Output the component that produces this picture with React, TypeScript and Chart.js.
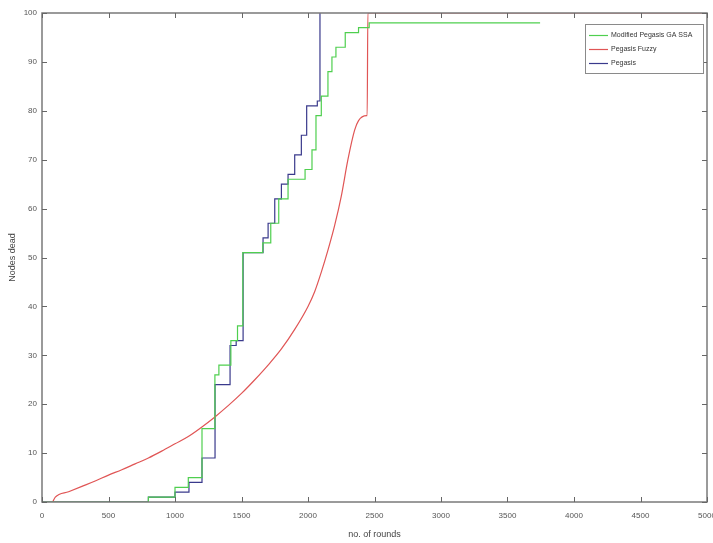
import React, { useEffect, useRef } from "react";
import { Chart, registerables } from "chart.js";

Chart.register(...registerables);

const xTicks = [0, 500, 1000, 1500, 2000, 2500, 3000, 3500, 4000, 4500, 5000];
const yTicks = [0, 10, 20, 30, 40, 50, 60, 70, 80, 90, 100];

const seriesNames = ["Modified Pegasis GA SSA", "Pegasis Fuzzy", "Pegasis"];
const seriesColors = ["#4fcf4f", "#e05555", "#3a3a8c"];

const greenX = [0, 800, 1000, 1100, 1203, 1300, 1330, 1420, 1470, 1510, 1660, 1720, 1780, 1850, 1978, 2030, 2060, 2100, 2150, 2180, 2210, 2280, 2380, 2460, 3745];
const greenY = [0, 1, 3, 5, 15, 26, 28, 33, 36, 51, 53, 57, 62, 66, 68, 72, 79, 83, 88, 91, 93, 96, 97, 98, 98];

const redX = [80, 100, 200, 300, 400, 500, 600, 700, 800, 900, 1000, 1100, 1200, 1300, 1400, 1500, 1600, 1700, 1800, 1900, 2000, 2050, 2100, 2150, 2200, 2250, 2300, 2350, 2380, 2440, 2445, 2450, 5000];
const redY = [0, 1, 2.1, 3.2, 4.3, 5.5, 6.6, 7.8, 9, 10.4, 11.9, 13.4, 15.3, 17.4, 19.7, 22.2, 25, 28, 31.3, 35.3, 40, 43, 47, 51.5, 56.5, 62.5, 70, 76, 78, 79, 79, 100, 100];

const blueX = [0, 800, 1000, 1105, 1203, 1301, 1414, 1460, 1512, 1662, 1700, 1750, 1800, 1850, 1900, 1950, 1990, 2070, 2090];
const blueY = [0, 1, 2, 4, 9, 24, 32, 33, 51, 54, 57, 62, 65, 67, 71, 75, 81, 82, 100];

const toPts = (xs: number[], ys: number[]) => xs.map((x, i) => ({ x, y: ys[i] }));

const FONT = "'Liberation Sans', Arial, sans-serif";

const boxPlugin = {
  id: "matlabBox",
  afterDatasetsDraw(chart: any) {
    const { ctx, chartArea: a, scales } = chart;
    const xs = scales.x;
    const ys = scales.y;
    ctx.save();
    ctx.strokeStyle = "#7a7a7a";
    ctx.lineWidth = 1.5;
    ctx.strokeRect(a.left, a.top, a.right - a.left, a.bottom - a.top);
    ctx.lineWidth = 1;
    ctx.strokeStyle = "#666";
    const tl = 5;
    ctx.beginPath();
    xTicks.forEach((v) => {
      const px = Math.round(xs.getPixelForValue(v)) + 0.5;
      ctx.moveTo(px, a.bottom);
      ctx.lineTo(px, a.bottom - tl);
      ctx.moveTo(px, a.top);
      ctx.lineTo(px, a.top + tl);
    });
    yTicks.forEach((v) => {
      const py = Math.round(ys.getPixelForValue(v)) + 0.5;
      ctx.moveTo(a.left, py);
      ctx.lineTo(a.left + tl, py);
      ctx.moveTo(a.right, py);
      ctx.lineTo(a.right - tl, py);
    });
    ctx.stroke();

    // legend
    const lx = 585, ly = 24, lw = 118, lh = 49;
    ctx.fillStyle = "#fff";
    ctx.fillRect(lx, ly, lw, lh);
    ctx.strokeStyle = "#8a8a8a";
    ctx.lineWidth = 1;
    ctx.strokeRect(lx + 0.5, ly + 0.5, lw, lh);
    const rows = [35, 49, 63];
    ctx.font = `7px ${FONT}`;
    ctx.textBaseline = "middle";
    ctx.textAlign = "left";
    chart.data.datasets.forEach((ds: any, i: number) => {
      ctx.strokeStyle = ds.borderColor;
      ctx.lineWidth = 1.2;
      ctx.beginPath();
      ctx.moveTo(589, rows[i] + 0.5);
      ctx.lineTo(608, rows[i] + 0.5);
      ctx.stroke();
      ctx.fillStyle = "#333";
      ctx.fillText(ds.label, 611, rows[i]);
    });
    ctx.restore();
  },
};

export default function App() {
  const ref = useRef<HTMLCanvasElement | null>(null);
  useEffect(() => {
    document.body.style.margin = "0";
    const canvas = ref.current!;
    const chart = new Chart(canvas, {
      type: "line",
      data: {
        datasets: [
          { label: seriesNames[0], data: toPts(greenX, greenY), borderColor: seriesColors[0], borderWidth: 1.2, pointRadius: 0, stepped: true, fill: false },
          { label: seriesNames[1], data: toPts(redX, redY), borderColor: seriesColors[1], borderWidth: 1.2, pointRadius: 0, stepped: false, cubicInterpolationMode: "monotone", fill: false },
          { label: seriesNames[2], data: toPts(blueX, blueY), borderColor: seriesColors[2], borderWidth: 1.2, pointRadius: 0, stepped: true, fill: false },
        ],
      },
      options: {
        animation: false,
        responsive: false,
        maintainAspectRatio: false,
        devicePixelRatio: 1,
        layout: { padding: { left: 0, right: 6, top: 13, bottom: 0 } },
        plugins: { legend: { display: false }, tooltip: { enabled: false } },
        scales: {
          x: {
            type: "linear",
            min: 0,
            max: 5000,
            afterBuildTicks: (s: any) => { s.ticks = xTicks.map((v) => ({ value: v })); },
            afterFit: (s: any) => { s.height = 41; s.paddingLeft = 0; s.paddingRight = 0; },
            grid: { display: false, drawTicks: false },
            border: { display: false },
            ticks: { font: { size: 8, family: FONT }, color: "#555", padding: 9, maxRotation: 0, autoSkip: false, callback: (v: any) => String(v) },
            title: { display: true, text: "no. of rounds", font: { size: 9, family: FONT }, color: "#444", padding: { top: 0, bottom: 3 } },
          },
          y: {
            type: "linear",
            min: 0,
            max: 100,
            afterBuildTicks: (s: any) => { s.ticks = yTicks.map((v) => ({ value: v })); },
            afterFit: (s: any) => { s.width = 42; s.paddingTop = 0; s.paddingBottom = 0; },
            grid: { display: false, drawTicks: false },
            border: { display: false },
            ticks: { font: { size: 8, family: FONT }, color: "#555", padding: 5, autoSkip: false, callback: (v: any) => String(v) },
            title: { display: true, text: "Nodes dead", font: { size: 9, family: FONT }, color: "#444", padding: { top: 7, bottom: 0 } },
          },
        },
      },
      plugins: [boxPlugin],
    });
    return () => chart.destroy();
  }, []);
  return (
    <div style={{ width: 713, height: 543, background: "#fff" }}>
      <canvas ref={ref} width={713} height={543} style={{ display: "block", width: 713, height: 543 }} />
    </div>
  );
}
